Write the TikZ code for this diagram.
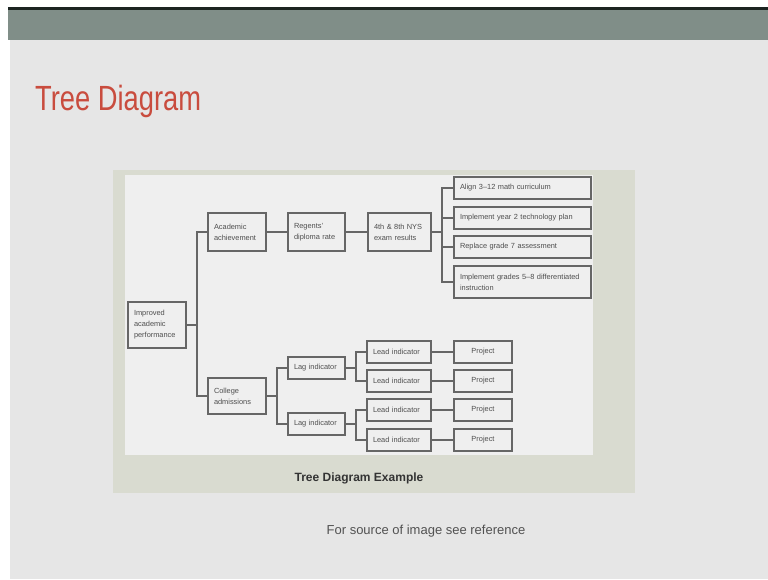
\documentclass[tikz,border=0pt]{standalone}
\usepackage{fontspec}
\usepackage{graphicx}
\setmainfont{Liberation Sans}
\definecolor{slidebg}{HTML}{E6E6E6}
\definecolor{barcol}{HTML}{808E88}
\definecolor{barline}{HTML}{1C2421}
\definecolor{titlered}{HTML}{C94C3E}
\definecolor{frameout}{HTML}{D9DBD0}
\definecolor{panel}{HTML}{EFEFEF}
\definecolor{boxline}{HTML}{666666}
\definecolor{boxtext}{HTML}{4E4E4E}
\definecolor{wire}{HTML}{666666}
\begin{document}
\begin{tikzpicture}[x=1pt,y=-1pt,
  box/.style={draw=boxline, line width=1.5pt, fill=panel, inner xsep=6pt, inner ysep=0pt,
    font=\fontsize{7.4}{11}\selectfont, text=boxtext, align=left, minimum height=22pt},
  wirestyle/.style={draw=wire, line width=1.5pt}]
\useasboundingbox (0,0) rectangle (768,580);
% slide background and header bar
\fill[white] (0,0) rectangle (768,580);
\fill[slidebg] (10,8) rectangle (768,579);
\fill[barcol] (8,10) rectangle (768,40);
\fill[barline] (8,7.5) rectangle (768,10);
\node[anchor=base west, inner sep=0pt, text=titlered, font=\fontsize{35}{35}\selectfont] (title) at (35,111) {\scalebox{0.78}[1]{Tree Diagram}};
% figure frame
\fill[frameout] (113,170) rectangle (635,493);
\fill[panel] (125,175) rectangle (593,455);
\node[font=\bfseries\fontsize{12}{12}\selectfont, text=black!80] (caption) at (359,478) {Tree Diagram Example};
\node[font=\fontsize{13}{13}\selectfont, text=black!68] (source) at (426,531) {For source of image see reference};
% tree boxes
\node[box, text width=46pt, minimum height=46pt] (root) at (157,325) {Improved\\academic\\performance};
\node[box, text width=46pt, minimum height=38pt] (acad) at (237,232) {Academic\\achievement};
\node[box, text width=45pt, minimum height=38pt] (regents) at (316.5,232) {Regents'\\diploma rate};
\node[box, text width=51pt, minimum height=38pt] (exam) at (399.5,232) {4th \& 8th NYS\\exam results};
\node[box, text width=125pt] (r1) at (522.5,188) {Align 3--12 math curriculum};
\node[box, text width=125pt] (r2) at (522.5,218) {Implement year 2 technology plan};
\node[box, text width=125pt] (r3) at (522.5,247) {Replace grade 7 assessment};
\node[box, text width=125pt, minimum height=32pt] (r4) at (522.5,282) {Implement grades 5--8 differentiated\\instruction};
\node[box, text width=46pt, minimum height=36pt] (college) at (237,396) {College\\admissions};
\node[box, text width=45pt] (lag1) at (316.5,368) {Lag indicator};
\node[box, text width=45pt] (lag2) at (316.5,424) {Lag indicator};
\node[box, text width=52pt] (lead1) at (399,352) {Lead indicator};
\node[box, text width=52pt] (lead2) at (399,381) {Lead indicator};
\node[box, text width=52pt] (lead3) at (399,410) {Lead indicator};
\node[box, text width=52pt] (lead4) at (399,440) {Lead indicator};
\node[box, text width=46pt, align=center] (proj1) at (483,352) {Project};
\node[box, text width=46pt, align=center] (proj2) at (483,381) {Project};
\node[box, text width=46pt, align=center] (proj3) at (483,410) {Project};
\node[box, text width=46pt, align=center] (proj4) at (483,440) {Project};
% branch points
\coordinate (j1) at (197,325);
\coordinate (j2) at (442,232);
\coordinate (j3) at (277,396);
\coordinate (j4) at (356,368);
\coordinate (j5) at (356,424);
% connectors
\begin{scope}[wirestyle]
\draw (root.east) -- (j1);
\draw (j1) |- (acad.west);
\draw (j1) |- (college.west);
\draw (acad.east) -- (regents.west);
\draw (regents.east) -- (exam.west);
\draw (exam.east) -- (j2);
\draw (j2) |- (r1.west);
\draw (j2) |- (r2.west);
\draw (j2) |- (r3.west);
\draw (j2) |- (r4.west);
\draw (college.east) -- (j3);
\draw (j3) |- (lag1.west);
\draw (j3) |- (lag2.west);
\draw (lag1.east) -- (j4);
\draw (j4) |- (lead1.west);
\draw (j4) |- (lead2.west);
\draw (lag2.east) -- (j5);
\draw (j5) |- (lead3.west);
\draw (j5) |- (lead4.west);
\draw (lead1.east) -- (proj1.west);
\draw (lead2.east) -- (proj2.west);
\draw (lead3.east) -- (proj3.west);
\draw (lead4.east) -- (proj4.west);
\end{scope}
\end{tikzpicture}
\end{document}
